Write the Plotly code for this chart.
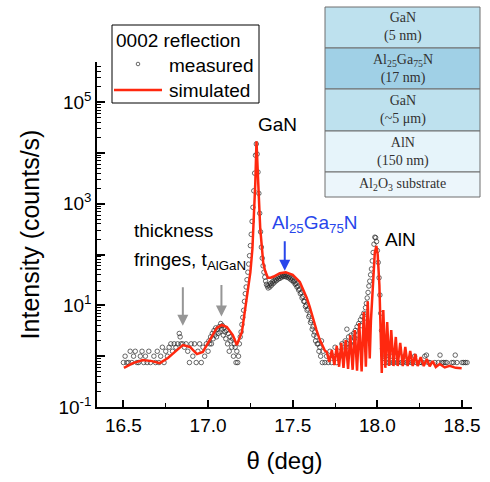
import plotly.graph_objects as go

# ---------------- data ----------------
meas_theta = [
    16.50, 16.51, 16.52, 16.53, 16.54, 16.55, 16.56, 16.57, 16.58, 16.59,
    16.60, 16.61, 16.62, 16.63, 16.64, 16.65, 16.66, 16.67, 16.68, 16.69,
    16.70, 16.71, 16.72, 16.73, 16.74, 16.75, 16.76, 16.77, 16.78, 16.79,
    16.80, 16.81, 16.82, 16.83, 16.835, 16.84, 16.85, 16.86, 16.87, 16.88,
    16.89, 16.90, 16.91, 16.92, 16.93, 16.94, 16.95, 16.96, 16.97, 16.98, 16.99,
    17.000, 17.005, 17.010, 17.015, 17.020, 17.025, 17.030, 17.035, 17.040, 17.045,
    17.050, 17.055, 17.060, 17.065, 17.070, 17.075, 17.080, 17.085, 17.090, 17.095,
    17.100, 17.105, 17.110, 17.115, 17.120, 17.125, 17.130, 17.135, 17.140, 17.145,
    17.150, 17.155, 17.160, 17.165, 17.170, 17.175, 17.180, 17.185, 17.190, 17.195,
    17.200, 17.205, 17.210, 17.215, 17.220, 17.225, 17.230, 17.235, 17.240, 17.245,
    17.250, 17.255, 17.260, 17.265, 17.270, 17.275, 17.280, 17.285, 17.290, 17.295,
    17.300, 17.305, 17.310, 17.315, 17.320, 17.325, 17.330, 17.335, 17.340, 17.345,
    17.350, 17.355, 17.360, 17.365, 17.370, 17.375, 17.380, 17.385, 17.390, 17.395,
    17.400, 17.405, 17.410, 17.415, 17.420, 17.425, 17.430, 17.435, 17.440, 17.445,
    17.450, 17.455, 17.460, 17.465, 17.470, 17.475, 17.480, 17.485, 17.490, 17.495,
    17.500, 17.505, 17.510, 17.515, 17.520, 17.525, 17.530, 17.535, 17.540, 17.545,
    17.550, 17.555, 17.560, 17.565, 17.570, 17.575, 17.580, 17.585, 17.590, 17.595,
    17.600, 17.605, 17.610, 17.615, 17.620, 17.625, 17.630, 17.635, 17.640, 17.645,
    17.650, 17.655, 17.660, 17.665, 17.670, 17.675, 17.680,
    17.690, 17.700, 17.710, 17.720, 17.730, 17.740, 17.750, 17.760, 17.770, 17.780,
    17.790, 17.800, 17.810, 17.815, 17.820, 17.825, 17.830, 17.840, 17.845, 17.850,
    17.860, 17.865, 17.870, 17.880, 17.885, 17.890, 17.900, 17.905, 17.910, 17.920,
    17.925, 17.930, 17.935, 17.940, 17.945, 17.950, 17.955, 17.960, 17.965, 17.970,
    17.975, 17.980, 17.985, 17.990, 17.995, 18.000, 18.005, 18.010, 18.015, 18.020,
    18.025, 18.030, 18.035,
    18.04, 18.05, 18.06, 18.07, 18.08, 18.09, 18.10, 18.11, 18.12, 18.13,
    18.14, 18.15, 18.16, 18.17, 18.18, 18.19, 18.20, 18.21, 18.22, 18.23,
    18.24, 18.25, 18.26, 18.27, 18.28, 18.29, 18.30, 18.31, 18.32, 18.33,
    18.34, 18.35, 18.36, 18.37, 18.38, 18.39, 18.40, 18.41, 18.42, 18.43,
    18.44, 18.45, 18.46, 18.47, 18.48, 18.49, 18.50, 18.51, 18.52, 18.53,
]
meas_counts = [
    0.75, 1.0, 0.75, 0.75, 1.25, 0.75, 1.0, 1.25, 0.75, 0.75,
    1.0, 1.25, 0.75, 1.0, 0.75, 1.25, 0.75, None, 1.0, 0.75,
    1.25, 0.75, 1.0, 1.5, 0.75, 1.25, 1.0, 1.5, 1.75, 1.25,
    1.75, 1.5, 1.75, 2.8, 2.4, 1.75, 1.75, 1.5, 1.75, 1.25,
    0.75, 1.75, 1.0, 1.75, 0.75, 1.25, 1.75, 0.75, 1.5, 1.0, 1.75,
    1.25, 2.0, 1.75, 2.4, 1.75, 2.8, 2.2, 3.2, 2.6, 3.6,
    2.4, 3.4, 2.8, 3.8, 3.0, 4.4, 3.4, 4.0, 2.6, 3.6,
    3.0, 2.2, 3.2, 1.75, 2.8, 1.25, 2.4, 2.0, 1.5, 2.2,
    1.0, 1.75, 1.5, 0.75, 1.25, 0.75, 1.0, 1.75, 2.4, 3.0,
    4.2, 5.8, 8.0, 12, 17, 23, 32, 45, 65, 95,
    150, 250, 450, 850, 1800, 4000, 9000, 15000, 9500, 4200,
    1600, 650, 280, 140, 85, 60, 45, 36, 30, 26,
    24, 22, 25, 23, 27, 25, 29, 27, 31, 29,
    33, 31, 35, 33, 37, 34, 38, 36, 39, 37,
    40, 37, 40, 36, 39, 35, 37, 33, 35, 31,
    33, 29, 30, 26, 27, 23, 24, 20, 21, 17,
    18, 14, 15, 12, 12, 9.5, 10, 8.0, 8.5, 6.0,
    6.5, 4.6, 5.0, 3.4, 3.8, 2.6, 3.0, 2.0, 2.4, 1.75,
    1.75, 1.25, 1.5, 1.0, 2.0, 0.75, 1.25,
    0.75, 1.0, 0.75, 1.25, 0.75, 1.0, 1.5, 0.75, 1.25, 1.0,
    1.75, 1.25, 2.0, 1.5, 3.4, 1.75, 2.4, 1.75, 2.6, 2.0,
    2.8, 2.2, 3.2, 3.8, 2.6, 4.4, 5.2, 4.0, 6.0, 7.0,
    5.6, 9.0, 11, 14, 18, 24, 30, 40, 52, 75,
    110, 160, 220, 215, 180, 120, 70, 35, 16, 7.0,
    3.2, 1.4, 1.0,
    0.75, 1.0, 0.75, 0.75, 1.0, 0.75, 0.75, 1.0, 0.75, None,
    0.75, 0.75, 1.0, 0.75, 0.75, None, 0.75, 0.75, 1.0, 0.75,
    None, 0.75, 0.75, 0.75, 1.0, 1.05, 0.75, 0.75, None, None,
    0.75, None, 0.75, 1.05, 0.75, 0.75, 0.75, 0.75, None, None,
    0.75, 0.75, 1.05, 0.75, None, None, 0.75, 0.75, 0.75, 0.75,
]

sim_theta = [
    16.503, 16.556, 16.615, 16.668, 16.715, 16.763, 16.816, 16.851, 16.893, 16.934,
    16.969, 17.011, 17.052, 17.081, 17.111, 17.146, 17.170, 17.200, 17.217, 17.235,
    17.250, 17.262, 17.272, 17.279, 17.286, 17.294, 17.300, 17.308, 17.318, 17.326,
    17.337, 17.353, 17.370, 17.388, 17.424, 17.459, 17.500, 17.542, 17.560, 17.583,
    17.600, 17.620, 17.640, 17.660, 17.675, 17.689,
    17.701, 17.716, 17.731, 17.746, 17.760, 17.774, 17.787, 17.800, 17.813, 17.827,
    17.840, 17.854, 17.867, 17.880, 17.893, 17.907, 17.920, 17.932, 17.943, 17.955,
    17.962, 17.975, 17.985, 17.994, 18.002, 18.012, 18.020, 18.026,
    18.035, 18.047, 18.058, 18.070, 18.082, 18.095, 18.109, 18.120, 18.135, 18.150,
    18.165, 18.179, 18.194, 18.209, 18.224, 18.238, 18.256, 18.274, 18.292, 18.309,
    18.327, 18.345, 18.368, 18.398, 18.427, 18.463, 18.498,
]
sim_counts = [
    0.59, 0.73, 0.84, 0.80, 0.73, 0.92, 1.32, 1.66, 1.52, 1.10,
    1.21, 2.08, 3.59, 4.11, 3.76, 2.61, 1.66, 3.0, 7.0, 18,
    45, 130, 550, 2600, 17000, 5500, 1350, 330, 130, 68,
    48, 35, 35, 37, 43, 45, 40, 29, 21, 14,
    9.5, 5.5, 3.3, 2.1, 1.6, 1.3,
    1.21, 0.77, 1.32, 0.67, 1.59, 0.62, 1.82, 0.59, 2.08, 0.56,
    2.61, 0.54, 3.28, 0.52, 4.51, 0.50, 7.4, 0.62, 12.0, 0.9,
    5.0, 40, 110, 148, 100, 25, 4.0, 0.47,
    8.1, 0.59, 4.7, 0.64, 3.28, 0.64, 2.39, 0.64, 1.82, 0.64,
    1.52, 0.64, 1.27, 0.64, 1.10, 0.64, 0.96, 0.64, 0.88, 0.63,
    0.80, 0.61, 0.70, 0.60, 0.645, 0.59, 0.58,
]

x_tick_vals = [16.5, 17.0, 17.5, 18.0, 18.5]
x_tick_text = ["16.5", "17.0", "17.5", "18.0", "18.5"]
y_tick_vals = [1e-1, 1e0, 1e1, 1e2, 1e3, 1e4, 1e5]
y_tick_text = ["10<sup>-1</sup>", "", "10<sup>1</sup>", "", "10<sup>3</sup>", "", "10<sup>5</sup>"]

layers = [
    ("GaN<br>(5 nm)", "rgb(190,225,238)"),
    ("Al<sub>25</sub>Ga<sub>75</sub>N<br>(17 nm)", "rgb(160,208,230)"),
    ("GaN<br>(~5 μm)", "rgb(190,225,238)"),
    ("AlN<br>(150 nm)", "rgb(230,244,250)"),
    ("Al<sub>2</sub>O<sub>3</sub> substrate", "rgb(236,246,251)"),
]

legend_title = "0002 reflection"
legend_names = ["measured", "simulated"]

# ---------------- figure ----------------
SANS = "Liberation Sans, Arial, sans-serif"
SERIF = "Liberation Serif, Times New Roman, serif"
MEAS_COLOR = "rgb(40,40,40)"
SIM_COLOR = "rgb(255,40,15)"

fig = go.Figure()
fig.add_trace(go.Scatter(
    x=meas_theta, y=meas_counts, mode="markers", name=legend_names[0], showlegend=False,
    marker=dict(symbol="circle-open", size=4.5, color=MEAS_COLOR,
                line=dict(width=0.7, color=MEAS_COLOR)),
))
fig.add_trace(go.Scatter(
    x=sim_theta, y=sim_counts, mode="lines", name=legend_names[1], showlegend=False,
    line=dict(color=SIM_COLOR, width=2.5),
))

W, H = 490, 482
L, R, T, B = 97, 18, 62, 75
pw, ph = W - L - R, H - T - B


def px_to_paper(px, py):
    return (px - L) / pw, (H - B - py) / ph


shapes = []
annotations = []

# table of layers (shapes + text)
row_edges = [7, 48, 89, 131, 172, 197]
tx0, tx1 = 325, 480
for i, (label, color) in enumerate(layers):
    x0, y1 = px_to_paper(tx0, row_edges[i])
    x1, y0 = px_to_paper(tx1, row_edges[i + 1])
    shapes.append(dict(type="rect", xref="paper", yref="paper", x0=x0, x1=x1, y0=y0, y1=y1,
                       fillcolor=color, line=dict(color="rgb(110,110,110)", width=1), layer="above"))
    cx, cy = px_to_paper((tx0 + tx1) / 2, (row_edges[i] + row_edges[i + 1]) / 2)
    annotations.append(dict(xref="paper", yref="paper", x=cx, y=cy, text=label, showarrow=False,
                            font=dict(family=SERIF, size=14, color="rgb(50,50,50)"),
                            xanchor="center", yanchor="middle"))

# legend box (drawn by hand to match the reference layout)
lx0, ly1 = px_to_paper(112, 25)
lx1, ly0 = px_to_paper(259, 103)
shapes.append(dict(type="rect", xref="paper", yref="paper", x0=lx0, x1=lx1, y0=ly0, y1=ly1,
                   fillcolor="white", line=dict(color="black", width=1), layer="above"))
sx0, sy = px_to_paper(114, 90)
sx1, _ = px_to_paper(162, 90)
shapes.append(dict(type="line", xref="paper", yref="paper", x0=sx0, x1=sx1, y0=sy, y1=sy,
                   line=dict(color=SIM_COLOR, width=2.5), layer="above"))
cx0, cy0 = px_to_paper(136.2, 62.2)
cx1, cy1 = px_to_paper(139.8, 65.8)
shapes.append(dict(type="circle", xref="paper", yref="paper", x0=cx0, x1=cx1, y0=cy1, y1=cy0,
                   line=dict(color=MEAS_COLOR, width=0.7), fillcolor="rgba(0,0,0,0)", layer="above"))
for txt, (px, py) in zip([legend_title] + legend_names, [(114, 40), (167, 65.5), (167, 90)]):
    ax_, ay_ = px_to_paper(px, py)
    annotations.append(dict(xref="paper", yref="paper", x=ax_, y=ay_, text=txt, showarrow=False,
                            xanchor="left", yanchor="middle",
                            font=dict(family=SANS, size=19, color="black")))

# peak labels
annotations += [
    dict(x=17.412, y=4.56, text="GaN", showarrow=False, font=dict(family=SANS, size=19, color="black")),
    dict(x=18.138, y=2.29, text="AlN", showarrow=False, font=dict(family=SANS, size=19, color="black")),
    dict(x=17.630, y=2.60, text="Al<sub>25</sub>Ga<sub>75</sub>N", showarrow=False,
         font=dict(family=SANS, size=19, color="rgb(40,70,235)")),
    dict(x=16.550, y=2.465, text="thickness", showarrow=False, xanchor="left",
         font=dict(family=SANS, size=19, color="black")),
    dict(x=16.550, y=1.874, text="fringes, t<sub>AlGaN</sub>", showarrow=False, xanchor="left",
         font=dict(family=SANS, size=19, color="black")),
    # arrows
    dict(x=16.851, y=0.60, ax=0, ay=-40, text="", showarrow=True, arrowhead=2, arrowsize=1.1,
         arrowwidth=2, arrowcolor="rgb(150,150,150)"),
    dict(x=17.079, y=0.78, ax=0, ay=-33, text="", showarrow=True, arrowhead=2, arrowsize=1.1,
         arrowwidth=2, arrowcolor="rgb(150,150,150)"),
    dict(x=17.453, y=1.68, ax=0, ay=-31, text="", showarrow=True, arrowhead=2, arrowsize=1.1,
         arrowwidth=2, arrowcolor="rgb(40,70,235)"),
]

y_minor = [m * 10.0 ** e for e in range(-1, 6) for m in range(2, 10)]

fig.update_layout(
    width=W, height=H,
    margin=dict(l=L, r=R, t=T, b=B, autoexpand=False),
    plot_bgcolor="white", paper_bgcolor="white",
    font=dict(family=SANS, color="black"),
    hovermode=False, showlegend=False,
    shapes=shapes, annotations=annotations,
    xaxis=dict(
        range=[16.344, 18.559], showgrid=False, zeroline=False, automargin=False,
        showline=True, linecolor="black", linewidth=1.5,
        tickmode="array", tickvals=x_tick_vals, ticktext=x_tick_text,
        ticks="inside", ticklen=7, tickwidth=1.5, tickcolor="black",
        minor=dict(tickmode="array", tickvals=[16.75, 17.25, 17.75, 18.25], ticks="inside",
                   ticklen=4, tickwidth=1.2, tickcolor="black"),
        tickfont=dict(family=SANS, size=19, color="black"),
        title=dict(text="θ (deg)", font=dict(family=SANS, size=24, color="black"), standoff=18),
    ),
    yaxis=dict(
        type="log", range=[-1, 5.79], showgrid=False, zeroline=False, automargin=False,
        showline=True, linecolor="black", linewidth=1.5,
        tickmode="array", tickvals=y_tick_vals, ticktext=y_tick_text,
        ticks="inside", ticklen=8, tickwidth=1.5, tickcolor="black",
        minor=dict(tickmode="array", tickvals=y_minor, ticks="inside",
                   ticklen=4, tickwidth=1, tickcolor="black"),
        tickfont=dict(family=SANS, size=19, color="black"),
        title=dict(text="Intensity (counts/s)", font=dict(family=SANS, size=25, color="black"), standoff=12),
    ),
)

fig.write_html("out.html", post_script="document.body.style.margin='0';",
               config={"displayModeBar": False})
